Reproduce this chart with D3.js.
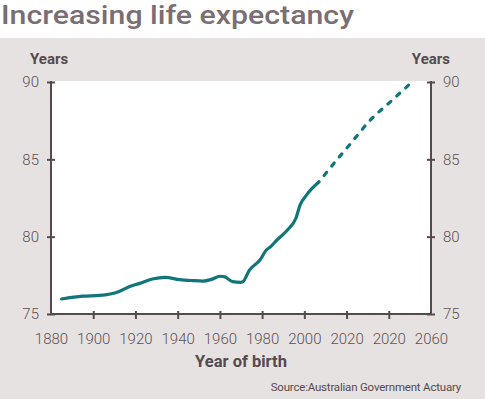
<!DOCTYPE html>
<meta charset="utf-8">
<script src="https://d3js.org/d3.v7.min.js"></script>
<style>
  body { margin: 0; background: #fff; }
  text { font-family: Roboto, "Liberation Sans", sans-serif; }
</style>
<div id="chart"></div>
<script>

    // data
    const histYears  = [1885, 1895, 1903, 1912, 1917, 1922, 1928, 1934, 1941, 1947, 1952, 1956, 1960, 1962, 1966, 1970, 1971, 1974, 1979, 1982, 1984, 1987, 1992, 1996, 1998, 2001, 2007];
    const histValues = [75.97, 76.15, 76.2, 76.44, 76.76, 76.98, 77.26, 77.37, 77.22, 77.16, 77.13, 77.24, 77.44, 77.42, 77.09, 77.05, 77.1, 77.84, 78.49, 79.14, 79.35, 79.78, 80.43, 81.19, 82.05, 82.69, 83.55];
    const projYears  = [2007, 2015, 2022, 2031, 2041, 2050];
    const projValues = [83.55, 84.9, 86.03, 87.5, 88.75, 89.87];
    const xTicks      = [1880, 1900, 1920, 1940, 1960, 1980, 2000, 2020, 2040, 2060];
    const xTickLabels = ["1880", "1900", "1920", "1940", "1960", "1980", "2000", "2020", "2020", "2060"];
    const yTicks      = [75, 80, 85, 90];

    const W = 485, H = 399;
    const plot = {left: 51, right: 431, top: 82, bottom: 314};
    const axisColor = "#574a4d";
    const lineColor = "#10767a";

    const svg = d3.select("#chart").append("svg")
        .attr("width", W).attr("height", H);

    // grey panel
    svg.append("rect").attr("x", 0).attr("y", 38).attr("width", W).attr("height", H - 38)
        .attr("fill", "#e6e2e1");

    // title
    svg.append("text").attr("x", 1).attr("y", 24)
        .text("Increasing life expectancy")
        .attr("font-size", 25).attr("font-weight", 500).attr("fill", "#7a6e72")
        .attr("textLength", 353).attr("lengthAdjust", "spacingAndGlyphs");

    // white plot area
    svg.append("rect")
        .attr("x", plot.left).attr("y", plot.top - 1)
        .attr("width", plot.right - plot.left).attr("height", plot.bottom - plot.top + 1)
        .attr("fill", "#fff");

    const x = d3.scaleLinear().domain([1880, 2060]).range([plot.left, plot.right]);
    const y = d3.scaleLinear().domain([75, 90]).range([plot.bottom, plot.top]);

    // left axis
    const gl = svg.append("g").attr("transform", `translate(${plot.left},0)`)
        .call(d3.axisLeft(y).tickValues(yTicks).tickSize(4).tickPadding(8));
    gl.selectAll(".tick line").attr("x1", 4);

    // right axis
    const gr = svg.append("g").attr("transform", `translate(${plot.right},0)`)
        .call(d3.axisRight(y).tickValues(yTicks).tickSize(4).tickPadding(8));
    gr.selectAll(".tick line").attr("x1", -4);

    // bottom axis
    const gb = svg.append("g").attr("transform", `translate(0,${plot.bottom})`)
        .call(d3.axisBottom(x).tickValues(xTicks).tickSize(5).tickPadding(14)
            .tickFormat((d, i) => xTickLabels[i]));
    gb.selectAll(".tick line").attr("y1", -3)
        .attr("opacity", d => (d === 1880 || d === 2060) ? 0 : 1);

    [gl, gr, gb].forEach(g => {
        g.select(".domain").attr("stroke", axisColor).attr("stroke-width", 2);
        g.selectAll(".tick line").attr("stroke", axisColor).attr("stroke-width", 2);
        g.selectAll(".tick text").attr("font-size", 15).attr("fill", "#5e5155")
            .attr("font-family", "Roboto, sans-serif").attr("font-weight", 300);
    });
    gl.select(".domain").attr("d", `M0,${plot.top - 1}V${plot.bottom}`);
    gr.select(".domain").attr("d", `M0,${plot.top - 1}V${plot.bottom}`);
    gb.select(".domain").attr("d", `M${plot.left - 1},0H${plot.right + 1}`);

    // axis titles
    svg.append("text").attr("x", 30).attr("y", 64).text("Years")
        .attr("font-size", 15).attr("font-weight", 700).attr("fill", "#574a4d");
    svg.append("text").attr("x", 450).attr("y", 64).attr("text-anchor", "end").text("Years")
        .attr("font-size", 15).attr("font-weight", 700).attr("fill", "#574a4d");
    svg.append("text").attr("x", 241).attr("y", 367).attr("text-anchor", "middle").text("Year of birth")
        .attr("font-size", 16.5).attr("font-weight", 700).attr("fill", "#574a4d");
    svg.append("text").attr("x", 461).attr("y", 391).attr("text-anchor", "end")
        .text("Source:Australian Government Actuary")
        .attr("font-size", 11.5).attr("fill", "#574a4d").attr("letter-spacing", -0.2);

    // lines
    const line = d3.line().x(d => x(d[0])).y(d => y(d[1])).curve(d3.curveMonotoneX);

    svg.append("path")
        .datum(histYears.map((yr, i) => [yr, histValues[i]]))
        .attr("fill", "none").attr("stroke", lineColor).attr("stroke-width", 3.2)
        .attr("stroke-linecap", "round").attr("stroke-linejoin", "round")
        .attr("d", line);

    svg.append("path")
        .datum(projYears.map((yr, i) => [yr, projValues[i]]))
        .attr("fill", "none").attr("stroke", lineColor).attr("stroke-width", 3.2)
        .attr("stroke-linecap", "round").attr("stroke-dasharray", "4 8")
        .attr("stroke-dashoffset", -8)
        .attr("d", line);

</script>
